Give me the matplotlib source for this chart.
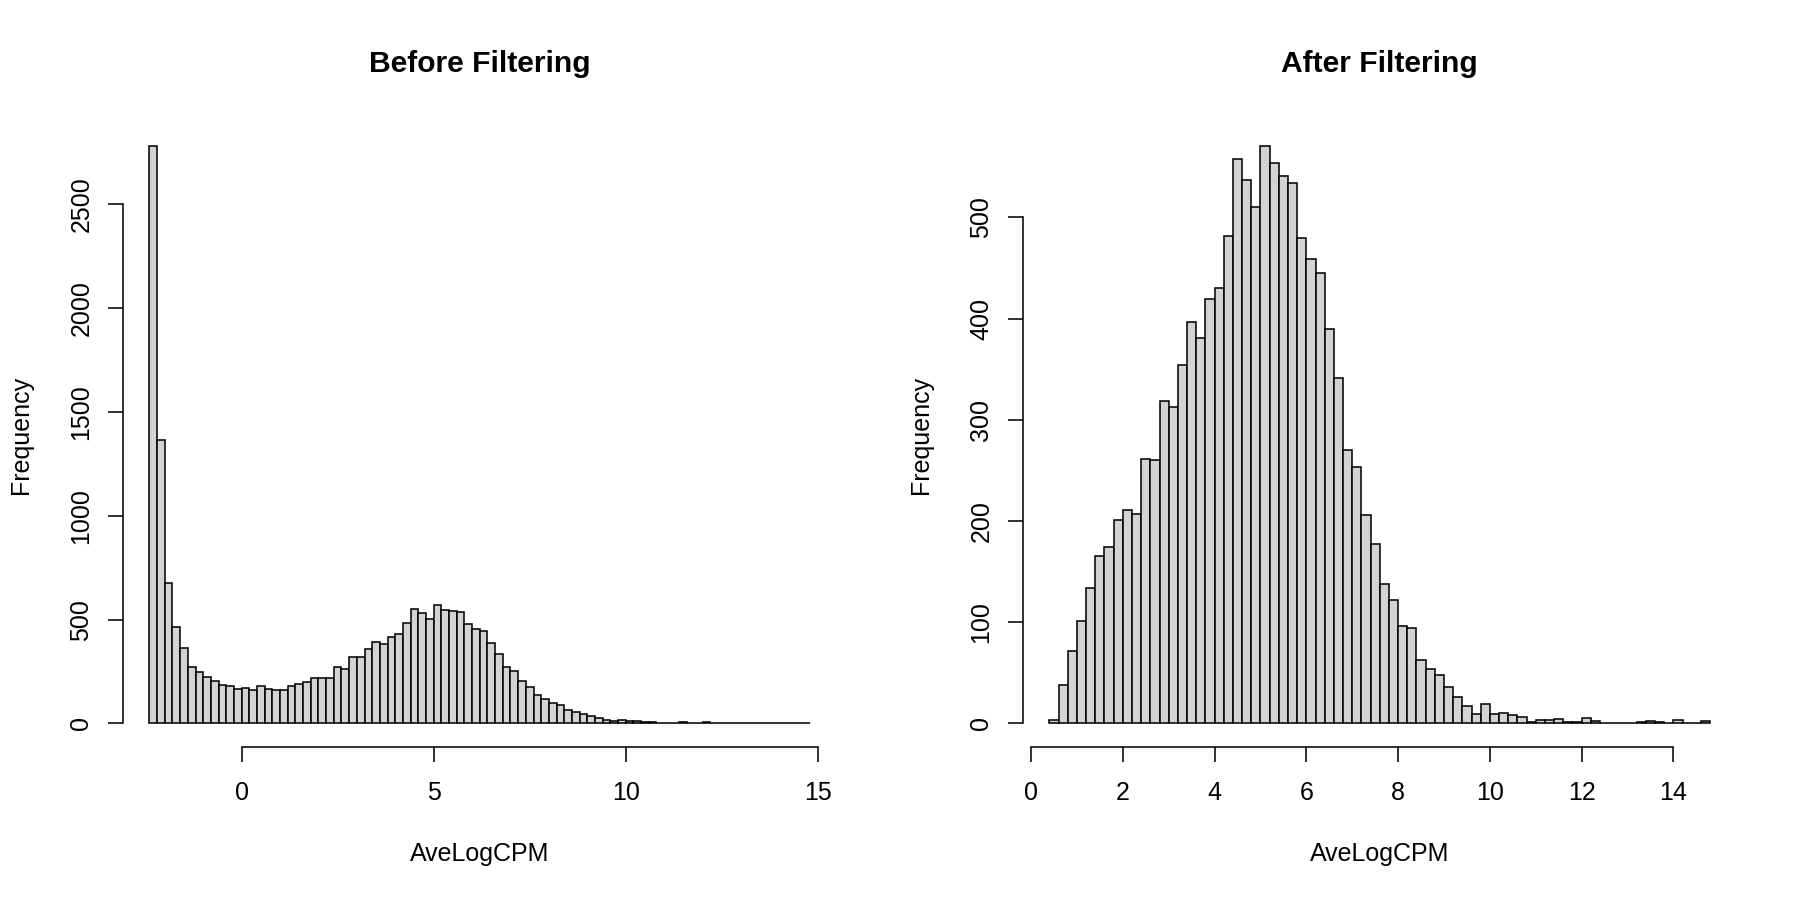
import numpy as np
import matplotlib
matplotlib.use("Agg")
import matplotlib.pyplot as plt

# histogram counts, bins of width 0.2
before_start = -2.4
before_counts = [2783, 1366, 675, 464, 361, 273, 247, 223, 205, 186,
                 180, 165, 172, 160, 180, 167, 162, 162, 178, 191,
                 199, 221, 221, 220, 273, 262, 319, 319, 358, 392,
                 382, 417, 430, 485, 552, 534, 504, 571, 547, 539,
                 536, 477, 453, 445, 386, 336, 270, 252, 205, 177,
                 136, 119, 96, 90, 64, 53, 45, 35, 24, 16,
                 10, 18, 10, 10, 8, 5, 2, 3, 3, 5,
                 2, 1, 5, 3, 1, 1, 1, 1, 2, 2,
                 1, 1, 2, 1, 1, 2]

after_start = 0.4
after_counts = [3, 38, 72, 101, 134, 165, 174, 201, 211, 207,
                261, 260, 319, 313, 354, 397, 381, 419, 430, 482,
                558, 537, 510, 571, 554, 541, 534, 480, 459, 445,
                390, 341, 270, 253, 206, 177, 138, 122, 96, 94,
                63, 54, 48, 36, 26, 17, 9, 19, 9, 10,
                8, 6, 1, 3, 3, 4, 1, 1, 5, 2,
                0, 0, 0, 0, 1, 2, 1, 0, 3, 0,
                0, 2]

bin_width = 0.2
before_xticks = [0, 5, 10, 15]
before_yticks = [0, 500, 1000, 1500, 2000, 2500]
after_xticks = [0, 2, 4, 6, 8, 10, 12, 14]
after_yticks = [0, 100, 200, 300, 400, 500]

plt.rcParams['font.family'] = ['Liberation Sans', 'DejaVu Sans']
plt.rcParams['font.size'] = 12

W, H = 1800, 900
fig = plt.figure(figsize=(12, 6), dpi=150)

# plot region in pixels (R default margins, one line = 30 px)
left_px, right_px, top_px, bottom_px = 123.0, 836.5, 122.5, 746.5


def r_hist(offset, start, counts, xticks, yticks, title):
    counts = np.array(counts, dtype=float)
    edges = start + bin_width * np.arange(len(counts) + 1)
    ax = fig.add_axes([(left_px + offset) / W, 1 - bottom_px / H,
                       (right_px - left_px) / W, (bottom_px - top_px) / H])
    ax.bar(edges[:-1], counts, width=bin_width, align='edge',
           color='#D3D3D3', edgecolor='black', linewidth=0.75)

    xr = edges[-1] - edges[0]
    ax.set_xlim(edges[0] - 0.04 * xr, edges[-1] + 0.04 * xr)
    ymax = counts.max()
    ax.set_ylim(-0.04 * ymax, 1.04 * ymax)

    for side in ['top', 'right']:
        ax.spines[side].set_visible(False)
    ax.spines['bottom'].set_bounds(xticks[0], xticks[-1])
    ax.spines['left'].set_bounds(yticks[0], yticks[-1])
    for side in ['bottom', 'left']:
        ax.spines[side].set_linewidth(0.75)

    ax.set_xticks(xticks)
    ax.set_yticks(yticks)
    ax.set_yticklabels([str(v) for v in yticks], rotation=90, va='center')
    ax.tick_params(length=7.2, width=0.75, labelsize=12)
    ax.tick_params(axis='x', pad=9.5)
    ax.tick_params(axis='y', pad=7)

    cx = (left_px + right_px) / 2 + offset
    fig.text(cx / W, 1 - 72 / H, title, ha='center', va='baseline',
             fontsize=14.4, fontweight='bold')
    fig.text(cx / W, 1 - 854 / H, 'AveLogCPM', ha='center', va='center',
             fontsize=12)
    fig.text((21 + offset) / W, 1 - (top_px + bottom_px) / 2 / H, 'Frequency',
             ha='center', va='center', rotation=90, fontsize=12)
    return ax


r_hist(0, before_start, before_counts, before_xticks, before_yticks,
       'Before Filtering')
r_hist(900, after_start, after_counts, after_xticks, after_yticks,
       'After Filtering')

fig.savefig('out.png', dpi=150, facecolor='white')
